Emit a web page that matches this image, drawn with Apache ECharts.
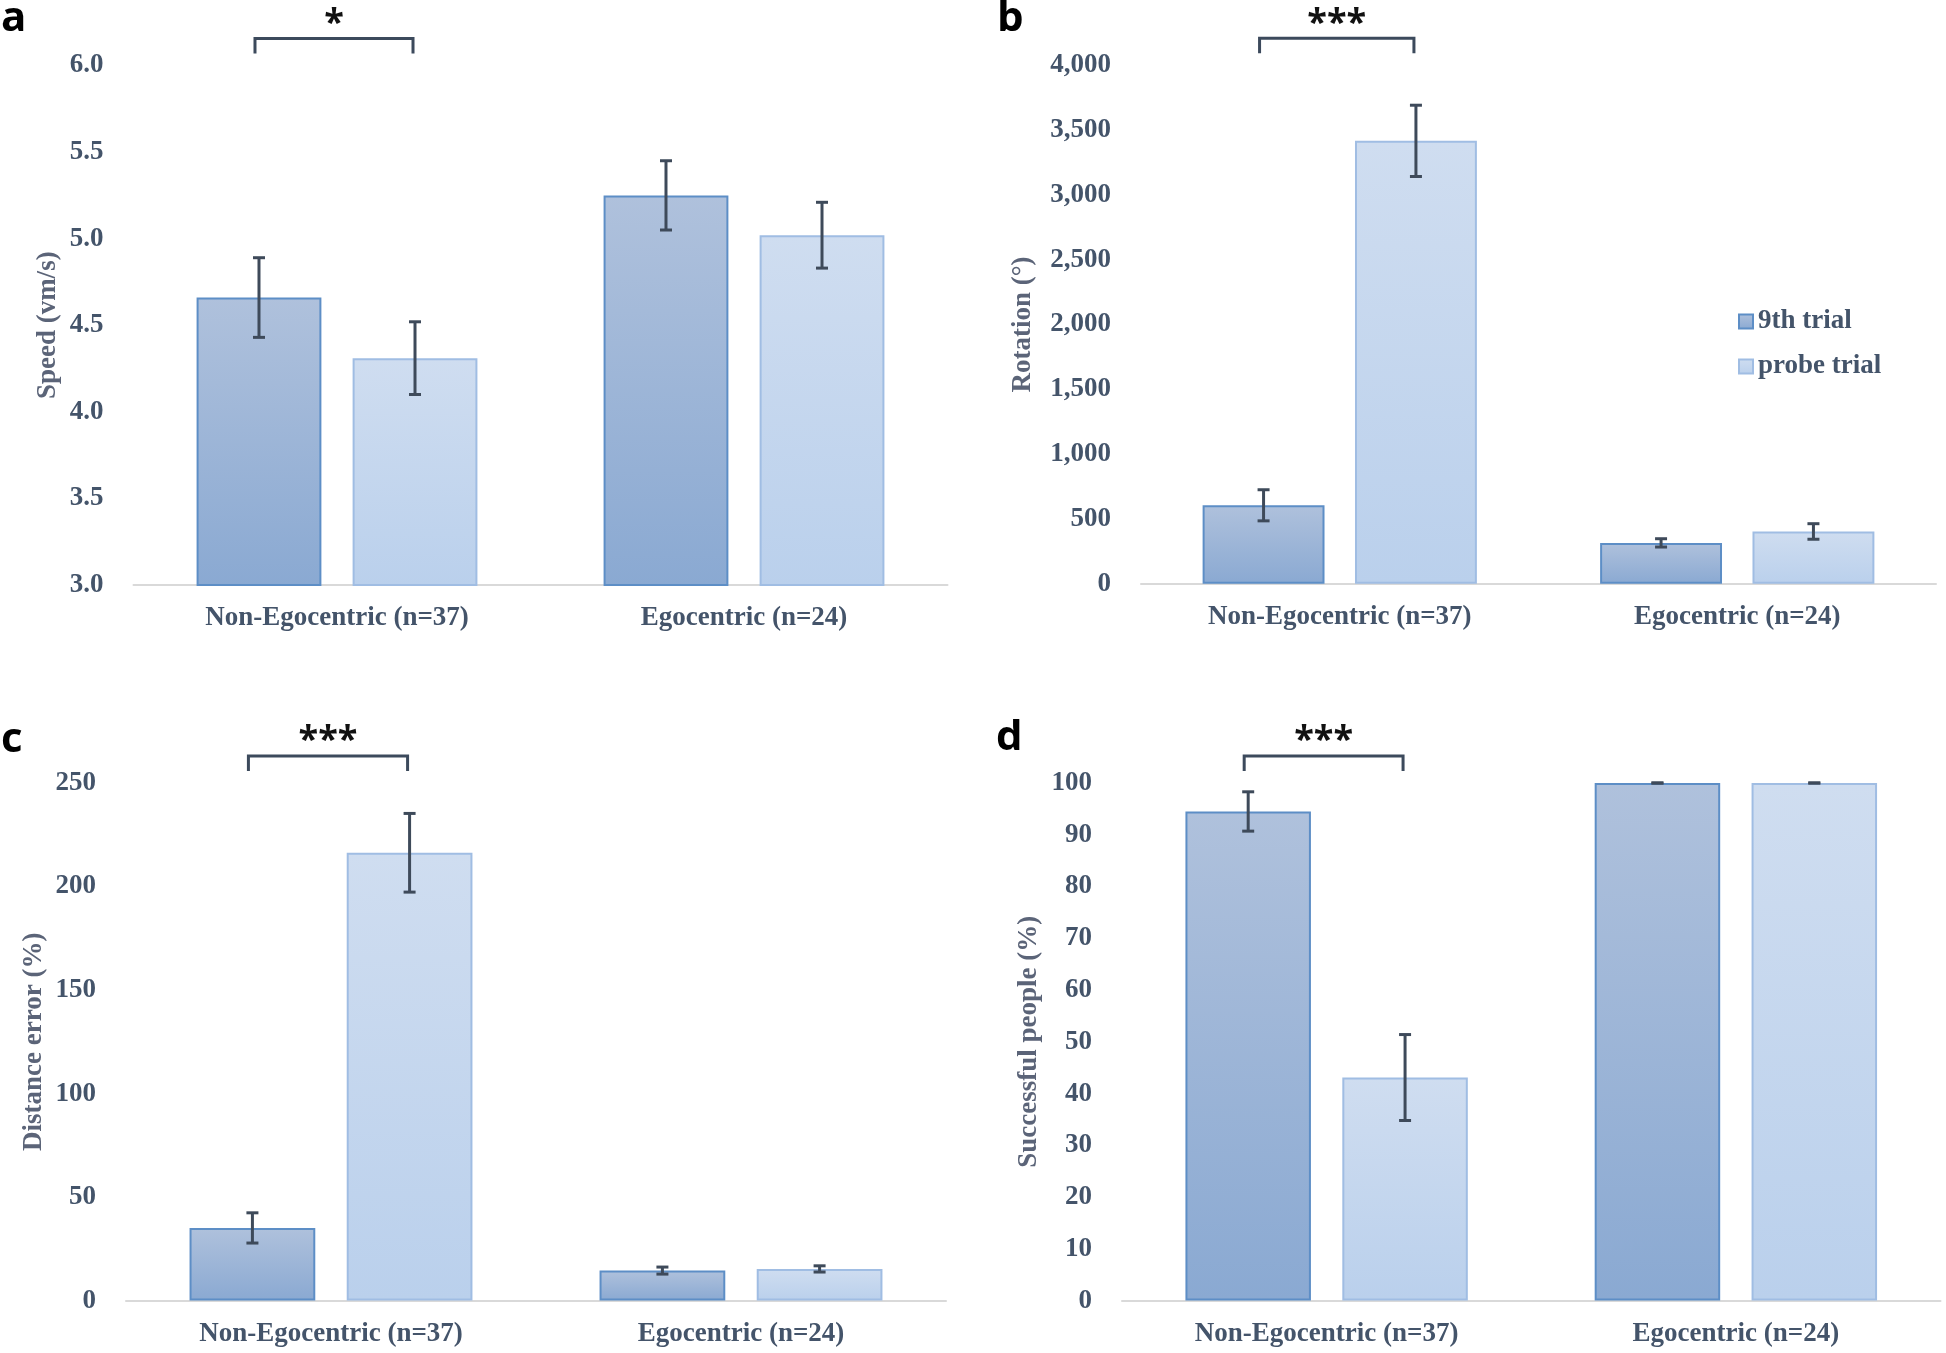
<!DOCTYPE html>
<html><head><meta charset="utf-8">
<script src="https://cdn.jsdelivr.net/npm/echarts@6/dist/echarts.min.js"></script>
<style>html,body{margin:0;padding:0;background:#fff}#c{width:1946px;height:1353px}</style>
</head><body><div id="c"></div>
<script>
// ---------- data ----------
const categories = ['Non-Egocentric (n=37)', 'Egocentric (n=24)'];
const seriesNames = ['9th trial', 'probe trial'];
const panelLetters = ['a', 'b', 'c', 'd'];
const axisTitles = ['Speed (vm/s)', 'Rotation (°)', 'Distance error (%)', 'Successful people (%)'];
const sigLabels = ['*', '***', '***', '***'];
// a: speed
const speedNinth = [4.66, 5.25];
const speedProbe = [4.31, 5.02];
const speedNinthErr = [0.23, 0.20];
const speedProbeErr = [0.21, 0.19];
const speedTicks = { min: 3, max: 6, interval: 0.5 };
// b: rotation
const rotNinth = [605, 315];
const rotProbe = [3417, 403];
const rotNinthErr = [120, 32];
const rotProbeErr = [275, 60];
const rotTicks = { min: 0, max: 4000, interval: 500 };
// c: distance error
const distNinth = [35.1, 14.5];
const distProbe = [216.3, 15.3];
const distNinthErr = [7.3, 1.7];
const distProbeErr = [19, 1.5];
const distTicks = { min: 0, max: 250, interval: 50 };
// d: successful people
const succNinth = [94.5, 100];
const succProbe = [43.1, 100];
const succNinthErr = [3.8, 0];
const succProbeErr = [8.3, 0];
const succTicks = { min: 0, max: 100, interval: 10 };

// ---------- style ----------
const SERIF = '"Liberation Serif", "Times New Roman", serif';
const SANS = '"Open Sans", Lato, sans-serif';
const TICK_COLOR = '#44546a';
const TITLE_COLOR = '#5b6478';
const ERR_COLOR = '#3e4a5a';
const CAT_GAP = 0.31, BAR_GAP = 0.25;

const panels = [
  { ninth: speedNinth, probe: speedProbe, nErr: speedNinthErr, pErr: speedProbeErr, ticks: speedTicks,
    fmt: v => v.toFixed(1), grid: { left: 133.5, top: 65.5, width: 814, height: 519.5 }, nameGap: 72 },
  { ninth: rotNinth, probe: rotProbe, nErr: rotNinthErr, pErr: rotProbeErr, ticks: rotTicks,
    fmt: v => v.toLocaleString('en-US'), grid: { left: 1141, top: 65.3, width: 795, height: 518.4 }, nameGap: 104 },
  { ninth: distNinth, probe: distProbe, nErr: distNinthErr, pErr: distProbeErr, ticks: distTicks,
    fmt: v => String(v), grid: { left: 126, top: 783, width: 820, height: 517.6 }, nameGap: 78 },
  { ninth: succNinth, probe: succProbe, nErr: succNinthErr, pErr: succProbeErr, ticks: succTicks,
    fmt: v => String(v), grid: { left: 1122, top: 783, width: 818.5, height: 517.6 }, nameGap: 79 }
];

const ninthStyle = {
  color: new echarts.graphic.LinearGradient(0, 0, 0, 1, [
    { offset: 0, color: '#afc1dc' }, { offset: 1, color: '#8aa9d2' }]),
  borderColor: '#5d8ec6', borderWidth: 2
};
const probeStyle = {
  color: new echarts.graphic.LinearGradient(0, 0, 0, 1, [
    { offset: 0, color: '#cfddf0' }, { offset: 1, color: '#bad0ec' }]),
  borderColor: '#a0bde3', borderWidth: 2
};

function barOffset(api, idx) {
  const band = api.size([1, 0])[0];
  const bw = band * (1 - CAT_GAP) / (2 + BAR_GAP);
  return (idx === 0 ? -1 : 1) * bw * (1 + BAR_GAP) / 2;
}

function errRender(idx) {
  return function (params, api) {
    const cat = api.value(0);
    const pLo = api.coord([cat, api.value(1)]);
    const pHi = api.coord([cat, api.value(2)]);
    const x = pLo[0] + barOffset(api, idx);
    const cap = 6;
    const st = { stroke: ERR_COLOR, lineWidth: 3 };
    return { type: 'group', children: [
      { type: 'line', shape: { x1: x, y1: pLo[1], x2: x, y2: pHi[1] }, style: st },
      { type: 'line', shape: { x1: x - cap, y1: pLo[1], x2: x + cap, y2: pLo[1] }, style: st },
      { type: 'line', shape: { x1: x - cap, y1: pHi[1], x2: x + cap, y2: pHi[1] }, style: st }
    ] };
  };
}

function sigRender(label, yMax) {
  return function (params, api) {
    const cat = api.value(0);
    const top = api.coord([cat, yMax]);
    const x0 = top[0] + barOffset(api, 0) - 4;
    const x1 = top[0] + barOffset(api, 1) - 2;
    const yt = top[1] - 27;
    return { type: 'group', children: [
      { type: 'polyline', shape: { points: [[x0, yt + 15], [x0, yt], [x1, yt], [x1, yt + 15]] },
        style: { stroke: '#3c4a5c', lineWidth: 3, fill: null } },
      { type: 'text', style: { text: label, x: (x0 + x1) / 2, y: top[1] - 42, align: 'center', verticalAlign: 'middle',
        font: 'bold 36px ' + SANS, fill: '#111' } }
    ] };
  };
}

const grids = [], xAxes = [], yAxes = [], series = [];
panels.forEach((p, i) => {
  grids.push(Object.assign({ containLabel: false }, p.grid));
  xAxes.push({
    type: 'category', gridIndex: i, data: categories,
    axisLine: { lineStyle: { color: '#d9d9d9', width: 2 } },
    axisTick: { show: false },
    axisLabel: { fontSize: 27, fontWeight: 'bold', fontFamily: SERIF, color: TICK_COLOR, margin: 20 }
  });
  yAxes.push({
    type: 'value', gridIndex: i, min: p.ticks.min, max: p.ticks.max, interval: p.ticks.interval,
    splitLine: { show: false }, axisLine: { show: false }, axisTick: { show: false },
    axisLabel: { fontSize: 27, fontWeight: 'bold', fontFamily: SERIF, color: TICK_COLOR, margin: 30, formatter: p.fmt },
    name: axisTitles[i], nameLocation: 'middle', nameGap: p.nameGap,
    nameTextStyle: { fontSize: 27, fontWeight: 'bold', fontFamily: SERIF, color: TITLE_COLOR }
  });
  series.push({ type: 'bar', name: seriesNames[0], xAxisIndex: i, yAxisIndex: i, data: p.ninth,
    barCategoryGap: (CAT_GAP * 100) + '%', barGap: (BAR_GAP * 100) + '%', itemStyle: ninthStyle });
  series.push({ type: 'bar', name: seriesNames[1], xAxisIndex: i, yAxisIndex: i, data: p.probe,
    barCategoryGap: (CAT_GAP * 100) + '%', barGap: (BAR_GAP * 100) + '%', itemStyle: probeStyle });
  series.push({ type: 'custom', xAxisIndex: i, yAxisIndex: i, z: 5, renderItem: errRender(0),
    data: p.ninth.map((v, k) => [k, v - p.nErr[k], v + p.nErr[k]]), encode: { x: 0, y: [1, 2] } });
  series.push({ type: 'custom', xAxisIndex: i, yAxisIndex: i, z: 5, renderItem: errRender(1),
    data: p.probe.map((v, k) => [k, v - p.pErr[k], v + p.pErr[k]]), encode: { x: 0, y: [1, 2] } });
  series.push({ type: 'custom', xAxisIndex: i, yAxisIndex: i, z: 5, clip: false,
    renderItem: sigRender(sigLabels[i], p.ticks.max),
    data: [[0, p.ticks.min]], encode: { x: 0, y: 1 } });
});

const letterPos = [[1, 22], [997, 22], [1, 743], [996, 741]];
const graphics = panelLetters.map((t, i) => ({
  type: 'text', left: letterPos[i][0], top: letterPos[i][1] - 24,
  style: { text: t, font: 'bold 42px ' + SANS, fill: '#000' }
}));

const chart = echarts.init(document.getElementById('c'), null, { renderer: 'canvas' });
chart.setOption({
  animation: false,
  backgroundColor: '#fff',
  grid: grids, xAxis: xAxes, yAxis: yAxes, series: series,
  legend: {
    data: seriesNames, orient: 'vertical', left: 1733, top: 303, icon: 'rect',
    itemWidth: 14, itemHeight: 14, itemGap: 18,
    textStyle: { fontSize: 27, fontWeight: 'bold', fontFamily: SERIF, color: TICK_COLOR }
  },
  graphic: graphics
});
</script></body></html>
